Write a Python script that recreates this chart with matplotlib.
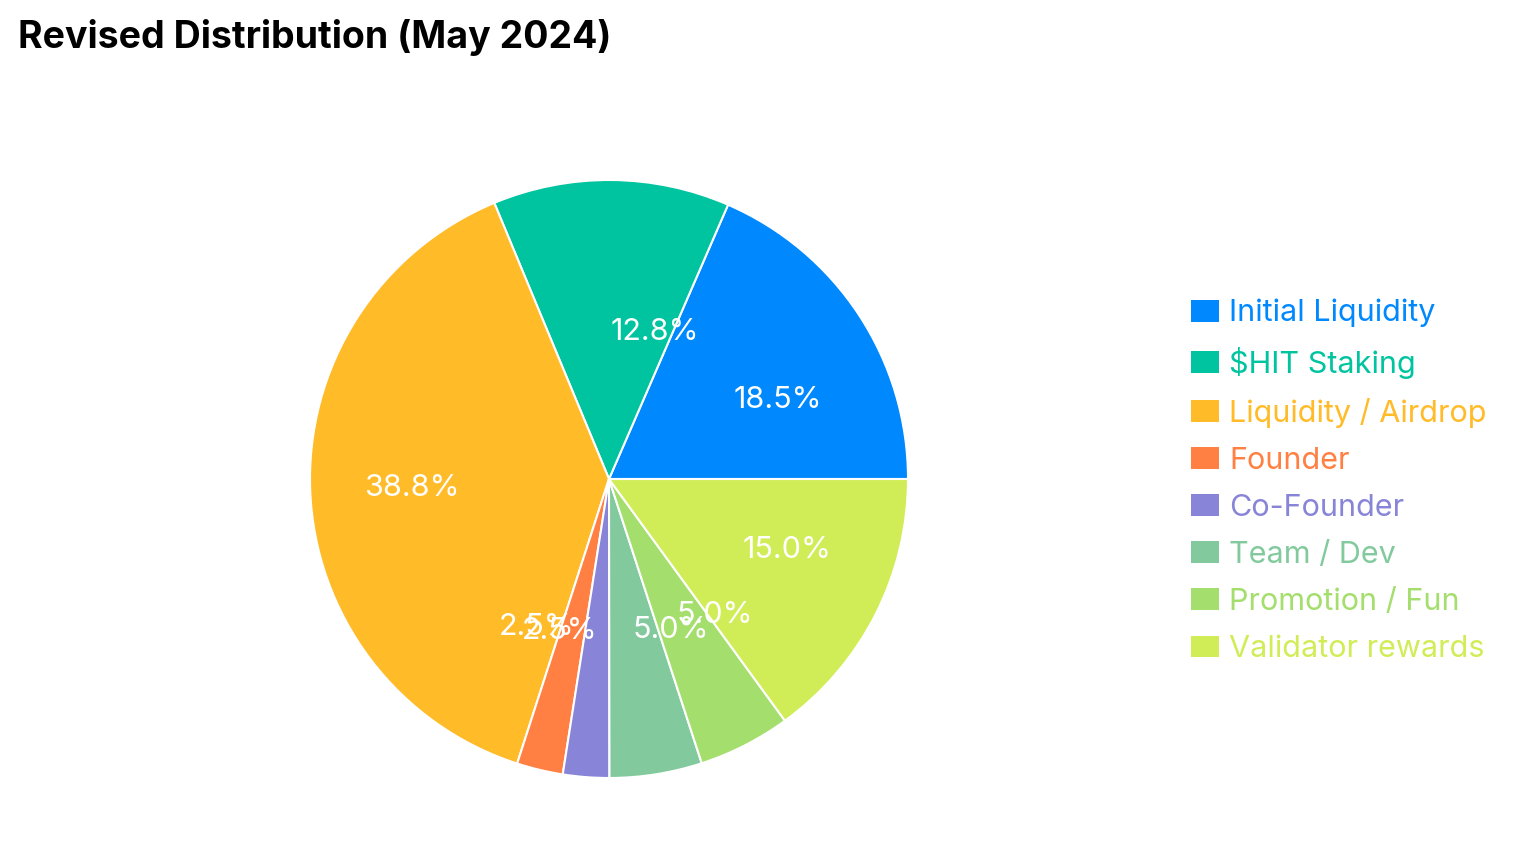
import numpy as np
import matplotlib
matplotlib.use("Agg")
import matplotlib.pyplot as plt
from matplotlib.patches import Patch

plt.rcParams['font.family'] = ['Inter', 'DejaVu Sans']

# data
labels = ["Initial Liquidity", "$HIT Staking", "Liquidity / Airdrop", "Founder",
          "Co-Founder", "Team / Dev", "Promotion / Fun", "Validator rewards"]
values = [18.5, 12.8, 38.8, 2.5, 2.5, 5.0, 5.0, 15.0]
colors = ["#0088FE", "#00C49F", "#FFBB28", "#FF8042",
          "#8884D8", "#82CA9D", "#A4DE6C", "#D0ED57"]
title = "Revised Distribution (May 2024)"

W, H = 1526, 860
fig = plt.figure(figsize=(W / 100, H / 100), dpi=100)

cx, cy, r = 609, 479, 299
ax = fig.add_axes([(cx - r) / W, (H - cy - r) / H, 2 * r / W, 2 * r / H])
wedges, _ = ax.pie(values, colors=colors, startangle=0, counterclock=True,
                   radius=1, wedgeprops=dict(edgecolor="white", linewidth=1.5))
ax.set_xlim(-1, 1)
ax.set_ylim(-1, 1)
ax.set_aspect("equal")
ax.axis("off")

# labels sit at half radius, anchored away from the centre
total = sum(values)
for w, v in zip(wedges, values):
    mid = np.deg2rad((w.theta1 + w.theta2) / 2)
    x, y = 0.5 * np.cos(mid), 0.5 * np.sin(mid) - 0.01
    ax.text(x, y, f"{v / total * 100:.1f}%", color="white", fontsize=22,
            ha="left" if x > 0 else "right", va="center")

handles = [Patch(facecolor=c, edgecolor="none") for c in colors]
leg = fig.legend(handles, labels, loc="center left",
                 bbox_to_anchor=(1191 / W, 1 - 481 / H), frameon=False,
                 fontsize=22, handlelength=0.92, handleheight=0.72,
                 handletextpad=0.33, labelspacing=0.625, borderpad=0,
                 borderaxespad=0)
for t, c in zip(leg.get_texts(), colors):
    t.set_color(c)

fig.text(18 / W, 1 - 37 / H, title, fontsize=27, fontweight="bold",
         ha="left", va="center", color="black")

fig.savefig("out.png", dpi=100, facecolor="white")
